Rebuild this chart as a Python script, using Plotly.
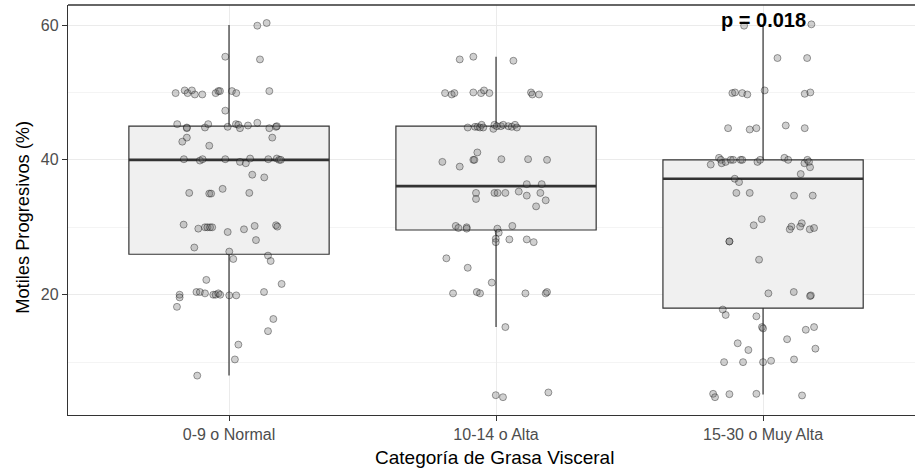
import plotly.graph_objects as go

# Categories on the x axis
categories = ["0-9 o Normal", "10-14 o Alta", "15-30 o Muy Alta"]

# Box statistics per category
q1_vals = [26.0, 29.6, 18.0]
median_vals = [40.0, 36.1, 37.2]
q3_vals = [45.0, 45.0, 40.0]
lower_vals = [8.0, 15.2, 5.2]
upper_vals = [60.0, 55.3, 60.0]

# Jittered observations: horizontal jitter (category units) and value (%)
jit_normal = [0.106, 0.141, -0.014, 0.116, -0.200, -0.166, -0.155, -0.139, -0.128, -0.100,
              -0.050, -0.040, -0.034, 0.011, 0.027, 0.151, -0.014, -0.194, -0.158, -0.158,
              -0.090, -0.078, -0.005, 0.026, 0.035, 0.041, 0.071, 0.106, 0.151, 0.176,
              0.179, -0.158, -0.175, -0.074, 0.162, -0.169, -0.109, -0.099, -0.014, 0.041,
              0.063, 0.079, 0.147, 0.179, 0.188, 0.194, 0.087, 0.132, -0.149, -0.074,
              -0.067, -0.024, 0.076, -0.170, -0.115, -0.090, -0.081, -0.071, -0.063, -0.005,
              0.056, 0.096, 0.176, 0.181, 0.101, -0.130, 0.001, 0.016, 0.146, 0.156,
              -0.085, 0.197, 0.131, -0.185, -0.185, -0.122, -0.109, -0.090, -0.059, -0.050,
              -0.040, -0.033, 0.001, 0.027, -0.195, 0.166, 0.146, 0.035, 0.022, -0.119]
val_normal = [59.9, 60.3, 55.3, 54.9, 49.9, 50.3, 49.9, 50.3, 49.7, 49.7,
              49.9, 50.2, 50.2, 50.2, 49.9, 50.2, 47.3, 45.3, 44.8, 44.7,
              44.8, 45.3, 44.9, 45.3, 45.2, 44.7, 45.1, 45.5, 44.7, 44.9,
              45.0, 43.3, 42.7, 42.1, 43.3, 40.1, 39.9, 40.1, 40.1, 39.7,
              39.5, 40.2, 40.1, 40.2, 40.0, 40.0, 37.8, 37.4, 35.1, 35.0,
              35.0, 35.7, 35.1, 30.4, 29.8, 30.0, 30.0, 30.0, 30.0, 29.3,
              29.7, 30.2, 30.3, 30.1, 28.1, 27.0, 26.4, 25.3, 25.8, 25.0,
              22.2, 21.6, 20.4, 20.0, 19.6, 20.4, 20.4, 20.2, 20.0, 20.0,
              20.2, 20.0, 19.9, 19.9, 18.2, 16.4, 14.6, 12.6, 10.4, 8.0]

jit_alta = [-0.136, -0.085, 0.065, -0.191, -0.166, -0.156, -0.085, -0.056, -0.045, -0.025,
            0.131, 0.136, 0.161, -0.106, -0.079, -0.069, -0.060, -0.054, -0.048, -0.010,
            -0.006, 0.003, 0.018, 0.027, 0.046, 0.059, 0.071, 0.078, -0.070, -0.201,
            -0.136, -0.085, -0.081, 0.020, 0.120, 0.191, 0.115, 0.171, -0.075, -0.075,
            -0.006, 0.006, 0.035, 0.085, 0.115, 0.166, 0.186, 0.150, -0.151, -0.141,
            -0.110, -0.110, 0.005, 0.010, 0.061, -0.001, -0.001, 0.050, 0.115, 0.141,
            -0.186, -0.106, -0.016, -0.161, -0.072, -0.060, 0.110, 0.186, 0.191, 0.035,
            -0.001, 0.026, 0.196]
val_alta = [54.9, 55.3, 54.7, 49.9, 49.7, 49.9, 50.0, 49.9, 50.3, 49.9,
            50.0, 49.7, 49.7, 44.8, 44.9, 44.9, 44.8, 45.2, 44.8, 44.6,
            45.2, 45.0, 45.0, 45.2, 45.0, 44.9, 45.2, 44.8, 41.1, 39.7,
            39.0, 40.0, 40.0, 40.1, 40.1, 40.0, 36.4, 36.4, 35.1, 34.2,
            35.1, 35.1, 35.1, 35.3, 34.7, 35.1, 34.0, 33.1, 30.2, 29.9,
            30.0, 29.8, 29.8, 29.2, 30.2, 28.3, 27.8, 28.2, 28.2, 27.8,
            25.4, 24.0, 21.8, 20.2, 20.4, 20.2, 20.2, 20.2, 20.4, 15.2,
            5.1, 4.8, 5.5]

jit_muy_alta = [-0.071, 0.181, 0.054, 0.165, -0.115, -0.105, -0.078, -0.059, 0.006, 0.156,
                0.177, -0.131, -0.050, -0.025, 0.085, 0.156, -0.196, -0.165, -0.158, -0.155,
                -0.140, -0.121, -0.112, -0.084, -0.078, -0.021, -0.011, 0.080, 0.094, 0.155,
                0.166, 0.172, 0.176, 0.141, -0.106, -0.090, -0.100, -0.050, 0.116, 0.186,
                -0.005, -0.035, 0.106, 0.100, 0.145, 0.139, 0.175, 0.191, -0.126, -0.126,
                -0.015, 0.020, 0.115, 0.179, 0.176, -0.151, -0.140, -0.025, -0.004, 0.000,
                0.160, 0.191, 0.090, -0.095, -0.055, 0.196, -0.146, -0.075, 0.000, 0.030,
                0.116, -0.187, -0.180, -0.126, -0.025, 0.146]
val_muy_alta = [59.9, 60.1, 55.1, 55.1, 49.9, 50.0, 49.9, 49.7, 50.3, 49.8,
                50.0, 44.7, 44.5, 44.7, 45.1, 44.7, 39.3, 40.3, 40.0, 39.5,
                39.7, 40.0, 40.0, 40.0, 40.0, 39.7, 40.0, 40.3, 40.0, 39.5,
                40.0, 39.7, 38.9, 37.9, 37.2, 36.7, 35.1, 35.1, 34.7, 34.7,
                31.2, 30.3, 30.1, 29.7, 30.6, 30.1, 29.7, 29.9, 27.9, 27.9,
                25.2, 20.2, 20.4, 19.9, 19.8, 17.8, 17.0, 16.8, 15.2, 15.0,
                14.8, 15.2, 13.4, 12.8, 11.8, 12.0, 10.0, 10.0, 10.0, 10.2,
                10.4, 5.3, 4.8, 5.25, 5.3, 5.06]

jitters = [jit_normal, jit_alta, jit_muy_alta]
values = [val_normal, val_alta, val_muy_alta]

p_label = "p = 0.018"
p_y = 60.74

positions = list(range(len(categories)))
box_width = 0.75
dark = "#333333"

fig = go.Figure()

# Boxes from precomputed statistics (no caps, like ggplot)
fig.add_trace(go.Box(
    x=positions, q1=q1_vals, median=median_vals, q3=q3_vals,
    lowerfence=lower_vals, upperfence=upper_vals,
    width=box_width, whiskerwidth=0, boxpoints=False,
    fillcolor="#f0f0f0", line=dict(color=dark, width=1.2),
    showlegend=False, hoverinfo="skip",
))

# Thicker median bars
mx, my = [], []
for pos, med in zip(positions, median_vals):
    mx += [pos - box_width / 2, pos + box_width / 2, None]
    my += [med, med, None]
fig.add_trace(go.Scatter(x=mx, y=my, mode="lines",
                         line=dict(color=dark, width=2.6),
                         showlegend=False, hoverinfo="skip"))

# Jittered points
for pos, jit, vals in zip(positions, jitters, values):
    fig.add_trace(go.Scatter(
        x=[pos + j for j in jit], y=vals, mode="markers",
        marker=dict(size=7, color="rgba(110,110,110,0.32)",
                    line=dict(color="rgba(0,0,0,0.36)", width=1)),
        showlegend=False, hoverinfo="skip",
    ))

fig.add_annotation(x=positions[2], y=p_y, xref="x", yref="y", text="<b>" + p_label + "</b>",
                   showarrow=False, font=dict(family="Liberation Sans, Arial", size=20, color="black"))

# Axis titles
fig.add_annotation(x=0.5036, y=-0.103, xref="paper", yref="paper",
                   text="Categoría de Grasa Visceral", showarrow=False,
                   xanchor="center", yanchor="middle",
                   font=dict(family="Liberation Sans, Arial", size=19, color="black"))
fig.add_annotation(x=-0.0531, y=0.481, xref="paper", yref="paper",
                   text="Motiles Progresivos (%)", showarrow=False, textangle=-90,
                   xanchor="center", yanchor="middle",
                   font=dict(family="Liberation Sans, Arial", size=18.3, color="black"))

# Top border of the panel
fig.add_shape(type="line", xref="paper", yref="paper", x0=0, x1=1, y0=1, y1=1,
              line=dict(color=dark, width=1.3))

fig.update_layout(
    width=915, height=471,
    margin=dict(l=68, r=0, t=5, b=56),
    paper_bgcolor="white", plot_bgcolor="white",
    font=dict(family="Liberation Sans, Arial"),
    xaxis=dict(
        range=[-0.603, 2.569], tickmode="array", tickvals=positions, ticktext=categories,
        showgrid=True, gridcolor="#ebebeb", gridwidth=1, zeroline=False,
        ticks="outside", ticklen=5, tickcolor=dark, tickwidth=1,
        tickfont=dict(size=16, color="#4d4d4d"),
        showline=True, linecolor=dark, linewidth=1.3,
    ),
    yaxis=dict(
        range=[2.16, 62.97], tickmode="array", tickvals=[20, 40, 60],
        showgrid=True, gridcolor="#ebebeb", gridwidth=1, zeroline=False,
        ticks="outside", ticklen=5, tickcolor=dark, tickwidth=1,
        tickfont=dict(size=16, color="#4d4d4d"),
        showline=True, linecolor=dark, linewidth=1.3,
        minor=dict(tickmode="array", tickvals=[10, 30, 50], showgrid=True,
                   gridcolor="#f4f4f4", ticks=""),
    ),
)

fig.write_html("out.html")
